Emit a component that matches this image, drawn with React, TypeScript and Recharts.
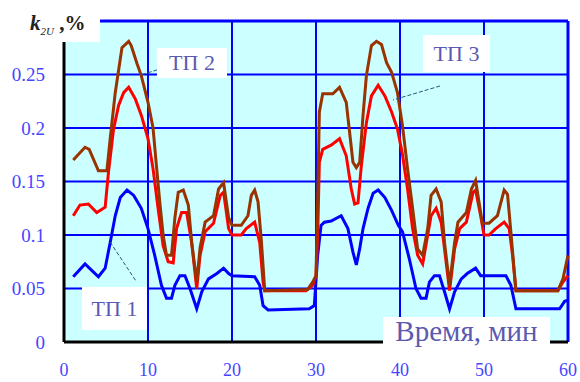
import { CartesianGrid, Line, LineChart, ReferenceLine, XAxis, YAxis } from 'recharts';

// time (min) and k2U (%), per substation
const tp1Time = [1.1, 2.5, 3.3, 4.1, 4.9, 5.5, 6.1, 6.7, 7.5, 8.3, 9.2, 10.0, 10.8, 11.6, 12.2, 12.8, 13.2, 13.8, 14.4, 15.0, 15.8, 16.4, 17.2, 18.2, 19.0, 19.6, 20.0, 22.7, 23.3, 23.7, 24.3, 29.2, 29.8, 30.2, 30.6, 31.0, 31.8, 33.0, 33.8, 34.4, 34.8, 35.2, 35.6, 36.2, 36.8, 37.4, 38.2, 39.0, 39.8, 40.3, 41.1, 41.9, 42.5, 43.1, 43.5, 44.1, 44.7, 45.3, 45.9, 46.5, 47.3, 48.0, 49.0, 49.6, 52.6, 53.2, 53.8, 59.0, 59.6, 60.0];
const tp1Values = [0.061, 0.073, 0.067, 0.061, 0.069, 0.093, 0.118, 0.135, 0.142, 0.137, 0.125, 0.106, 0.081, 0.053, 0.041, 0.041, 0.053, 0.062, 0.062, 0.05, 0.031, 0.047, 0.059, 0.064, 0.069, 0.064, 0.062, 0.061, 0.053, 0.034, 0.03, 0.031, 0.034, 0.081, 0.109, 0.112, 0.113, 0.118, 0.106, 0.084, 0.072, 0.087, 0.106, 0.125, 0.139, 0.142, 0.135, 0.123, 0.109, 0.103, 0.078, 0.05, 0.041, 0.041, 0.056, 0.062, 0.062, 0.047, 0.031, 0.047, 0.059, 0.064, 0.069, 0.062, 0.062, 0.053, 0.031, 0.031, 0.038, 0.039];

const tp2Time = [1.1, 2.5, 3.0, 4.1, 5.1, 5.5, 6.1, 6.9, 7.7, 8.0, 8.7, 9.2, 10.0, 10.6, 11.0, 11.4, 11.8, 12.2, 12.8, 13.2, 13.6, 14.2, 14.8, 15.2, 15.8, 16.2, 16.8, 17.8, 18.4, 19.0, 19.6, 20.0, 21.1, 21.9, 22.3, 22.7, 23.1, 23.5, 23.9, 29.0, 29.6, 30.0, 30.2, 30.4, 30.8, 32.0, 32.8, 33.6, 34.0, 34.4, 34.8, 35.2, 35.6, 36.0, 36.6, 37.2, 37.8, 38.4, 39.0, 39.7, 40.3, 40.9, 41.5, 42.1, 42.7, 43.3, 43.7, 44.3, 44.9, 45.3, 45.9, 46.5, 46.9, 47.9, 48.5, 49.0, 49.4, 49.8, 50.6, 51.6, 52.4, 52.8, 53.2, 53.8, 58.8, 59.4, 60.0];
const tp2Values = [0.17, 0.182, 0.18, 0.16, 0.16, 0.19, 0.233, 0.275, 0.281, 0.277, 0.26, 0.249, 0.224, 0.2, 0.165, 0.131, 0.1, 0.081, 0.081, 0.116, 0.14, 0.142, 0.128, 0.093, 0.056, 0.088, 0.112, 0.118, 0.143, 0.149, 0.116, 0.109, 0.109, 0.118, 0.137, 0.142, 0.131, 0.094, 0.048, 0.049, 0.056, 0.062, 0.134, 0.215, 0.232, 0.232, 0.238, 0.224, 0.196, 0.168, 0.163, 0.168, 0.212, 0.249, 0.277, 0.281, 0.278, 0.261, 0.252, 0.233, 0.202, 0.162, 0.125, 0.087, 0.081, 0.106, 0.137, 0.143, 0.131, 0.093, 0.053, 0.093, 0.112, 0.121, 0.143, 0.151, 0.131, 0.111, 0.111, 0.118, 0.142, 0.138, 0.103, 0.048, 0.048, 0.059, 0.081];

const tp3Time = [1.1, 1.9, 2.9, 3.9, 4.9, 5.3, 5.9, 6.5, 7.1, 7.7, 8.5, 9.2, 10.0, 10.6, 11.2, 11.8, 12.4, 13.0, 13.4, 14.0, 14.6, 15.2, 15.8, 16.2, 16.8, 17.8, 18.6, 19.0, 19.6, 20.0, 21.1, 21.7, 22.7, 23.3, 23.7, 23.9, 28.8, 29.6, 30.0, 30.2, 30.4, 30.8, 31.8, 32.8, 33.6, 34.2, 34.6, 35.0, 35.4, 36.0, 36.6, 37.4, 38.2, 39.0, 39.7, 40.3, 40.9, 41.5, 42.1, 42.7, 43.3, 43.7, 44.3, 44.9, 45.3, 45.9, 46.5, 47.1, 47.9, 48.7, 49.0, 49.6, 50.0, 50.6, 51.4, 52.4, 53.0, 53.4, 53.8, 58.8, 59.4, 60.0];
const tp3Values = [0.118, 0.128, 0.129, 0.121, 0.126, 0.159, 0.199, 0.221, 0.233, 0.238, 0.227, 0.212, 0.19, 0.162, 0.125, 0.09, 0.075, 0.074, 0.106, 0.121, 0.121, 0.093, 0.05, 0.081, 0.103, 0.111, 0.137, 0.14, 0.106, 0.1, 0.1, 0.106, 0.112, 0.093, 0.056, 0.048, 0.048, 0.053, 0.062, 0.1, 0.168, 0.18, 0.184, 0.19, 0.174, 0.143, 0.129, 0.13, 0.165, 0.205, 0.23, 0.24, 0.23, 0.215, 0.199, 0.175, 0.143, 0.106, 0.081, 0.073, 0.1, 0.118, 0.125, 0.112, 0.087, 0.048, 0.087, 0.106, 0.112, 0.14, 0.142, 0.118, 0.1, 0.1, 0.106, 0.112, 0.106, 0.081, 0.048, 0.048, 0.056, 0.062];

const xTicks = [0, 10, 20, 30, 40, 50, 60];
const yTicks = [0, 0.05, 0.1, 0.15, 0.2, 0.25];

const toPoints = (time: number[], values: number[]) => time.map((t, i) => ({ t, v: values[i] }));

const serif = '"Liberation Serif", "Times New Roman", serif';
const labelColor = '#5a5ab0';
const tickColor = '#4646ff';

// custom ticks so the serif face actually sticks
function XTick({ x, y, payload }: any) {
  return (
    <text x={x} y={y} dy="0.71em" textAnchor="middle" fill={tickColor} style={{ fontFamily: serif, fontSize: 18 }}>
      {payload.value}
    </text>
  );
}

function YTick({ x, y, payload }: any) {
  return (
    <text x={x} y={y} dy="0.355em" textAnchor="end" fill={tickColor} style={{ fontFamily: serif, fontSize: 19 }}>
      {payload.value}
    </text>
  );
}

function Tag({ text, left, top, width, height, size = 22 }: { text: string; left: number; top: number; width: number; height: number; size?: number }) {
  return (
    <div
      style={{
        position: 'absolute',
        left,
        top,
        width,
        height,
        background: '#fff',
        color: labelColor,
        fontFamily: serif,
        fontSize: size,
        display: 'flex',
        alignItems: 'center',
        justifyContent: 'center',
        whiteSpace: 'nowrap',
      }}
    >
      {text}
    </div>
  );
}

export default function App() {
  return (
    <div style={{ position: 'absolute', left: 0, top: 0, width: 580, height: 382, background: '#fff', fontFamily: serif }}>
      <LineChart width={580} height={382} margin={{ top: 21, right: 12, bottom: 0, left: 0 }}>
        <CartesianGrid fill="#ccffff" stroke="#0000ff" strokeWidth={2} />
        <XAxis
          dataKey="t"
          type="number"
          domain={[0, 60]}
          ticks={xTicks}
          height={40}
          tickLine={false}
          tickSize={0}
          tickMargin={21}
          axisLine={{ stroke: '#000', strokeWidth: 3 }}
          tick={<XTick />}
        />
        <YAxis
          type="number"
          domain={[0, 0.3]}
          ticks={yTicks}
          width={64}
          tickLine={false}
          tickSize={0}
          tickMargin={19}
          axisLine={{ stroke: '#000', strokeWidth: 3 }}
          tick={<YTick />}
        />
        <ReferenceLine y={0.3} stroke="#0000ff" strokeWidth={3} />
        <ReferenceLine x={60} stroke="#0000ff" strokeWidth={3} />
        <Line data={toPoints(tp1Time, tp1Values)} dataKey="v" name="ТП 1" stroke="#0000ff" strokeWidth={3} dot={false} type="linear" isAnimationActive={false} />
        <Line data={toPoints(tp3Time, tp3Values)} dataKey="v" name="ТП 3" stroke="#ff0000" strokeWidth={3} dot={false} type="linear" isAnimationActive={false} />
        <Line data={toPoints(tp2Time, tp2Values)} dataKey="v" name="ТП 2" stroke="#993300" strokeWidth={3} dot={false} type="linear" isAnimationActive={false} />
      </LineChart>

      {/* leader lines */}
      <svg width={580} height={382} style={{ position: 'absolute', left: 0, top: 0, pointerEvents: 'none' }}>
        <g stroke="#1f5a78" strokeWidth={1} strokeDasharray="4 2" fill="none">
          <line x1={163} y1={68} x2={141} y2={75} />
          <line x1={440} y1={86} x2={393} y2={100} />
          <line x1={110} y1={242} x2={136} y2={281} />
        </g>
      </svg>

      {/* y-axis title */}
      <div
        style={{
          position: 'absolute',
          left: 25,
          top: 9,
          width: 75,
          height: 33,
          background: '#fff',
          fontFamily: serif,
          fontWeight: 'bold',
          fontSize: 21,
          color: '#222',
          lineHeight: '28px',
          paddingLeft: 5,
          boxSizing: 'border-box',
          whiteSpace: 'nowrap',
        }}
      >
        <i>k</i>
        <sub style={{ fontSize: 11, fontStyle: 'italic', fontWeight: 'normal' }}>2U</sub>
        <span> ,%</span>
      </div>

      <Tag text="ТП 2" left={157} top={48} width={70} height={30} />
      <Tag text="ТП 3" left={423} top={35} width={67} height={37} />
      <Tag text="ТП 1" left={82} top={287} width={65} height={43} />
      <Tag text="Время, мин" left={383} top={317} width={167} height={28} size={29} />
    </div>
  );
}
